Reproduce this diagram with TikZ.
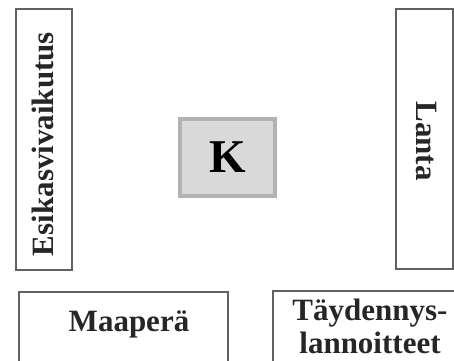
\documentclass[tikz,border=0pt]{standalone}
\usepackage{fontspec}
\setmainfont{Liberation Serif}
\begin{document}
\begin{tikzpicture}[x=1pt,y=-1pt,
  panel/.style={draw=black!62, line width=2pt, fill=white},
  label/.style={font=\fontsize{31}{33}\selectfont\bfseries, text=black!85, inner sep=0pt},
  core/.style={draw=black!30, line width=4.5pt, fill=black!15}]
  % canvas
  \path[use as bounding box] (0,0) rectangle (454,360);
  % side panels
  \node[panel, minimum width=56pt, minimum height=261pt, inner sep=0pt] (left) at (44,139.5) {};
  \node[panel, minimum width=57pt, minimum height=260pt, inner sep=0pt] (right) at (424.5,139) {};
  % centre box
  \node[core, minimum width=95pt, minimum height=77pt, inner sep=0pt] (k) at (227.5,157.5) {};
  % bottom panels
  \node[panel, minimum width=209pt, minimum height=100pt, inner sep=0pt, anchor=north west] (soil) at (18,291) {};
  \node[panel, minimum width=200pt, minimum height=100pt, inner sep=0pt, anchor=north west] (fert) at (272,290) {};
  % texts
  \node[label, rotate=90, anchor=base] (tleft) at (53,144) {Esikasvivaikutus};
  \node[label, rotate=-90, anchor=base] (tright) at (416,141) {Lanta};
  \node[label, font=\fontsize{47}{50}\selectfont\bfseries, text=black, anchor=base] (tk) at (228,172) {K};
  \node[label, anchor=base] (tsoil) at (129,331) {Maaperä};
  \node[label, anchor=base] (tfert1) at (370,320) {Täydennys-};
  \node[label, anchor=base] (tfert2) at (370,353) {lannoitteet};
\end{tikzpicture}
\end{document}
